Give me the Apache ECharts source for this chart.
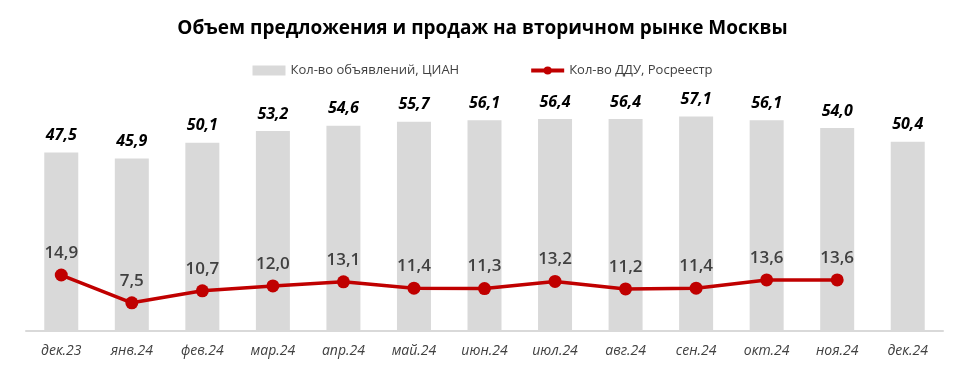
<!DOCTYPE html>
<html><head><meta charset="utf-8">
<script src="https://cdn.jsdelivr.net/npm/echarts@6/dist/echarts.min.js"></script>
<style>html,body{margin:0;padding:0;background:#fff}#c{width:965px;height:368px}</style>
</head><body><div id="c"></div>
<script>
const categories = ['дек.23','янв.24','фев.24','мар.24','апр.24','май.24','июн.24','июл.24','авг.24','сен.24','окт.24','ноя.24','дек.24'];
const listings = [47.5,45.9,50.1,53.2,54.6,55.7,56.1,56.4,56.4,57.1,56.1,54.0,50.4];
const deals = [14.9,7.5,10.7,12.0,13.1,11.4,11.3,13.2,11.2,11.4,13.6,13.6,null];
const seriesNames = ['Кол-во объявлений, ЦИАН','Кол-во ДДУ, Росреестр'];
const fmt = v => v.value == null ? '' : Number(v.value).toFixed(1).replace('.', ',');
const chart = echarts.init(document.getElementById('c'));
chart.setOption({
  animation: false,
  textStyle: {fontFamily: 'Open Sans'},
  title: {text: 'Объем предложения и продаж на вторичном рынке Москвы', left: 'center', top: 14,
    textStyle: {fontSize: 19, fontWeight: 'bold', color: '#000', fontFamily: 'Open Sans'}},
  legend: {top: 59, left: 'center', itemGap: 70, itemWidth: 33, itemHeight: 10,
    textStyle: {fontSize: 13, color: '#404040', fontFamily: 'Open Sans'},
    data: [{name: seriesNames[0], icon: 'rect'},
           {name: seriesNames[1], lineStyle: {width: 4, color: '#c00000'}}]},
  grid: {left: 26, right: 22, top: 68, bottom: 37},
  xAxis: {type: 'category', data: categories,
    axisLine: {lineStyle: {color: '#d9d9d9', width: 2}}, axisTick: {show: false},
    axisLabel: {fontStyle: 'italic', fontSize: 14, color: '#404040', margin: 13, fontFamily: 'Open Sans'}},
  yAxis: {type: 'value', min: 0, max: 70, show: false, splitLine: {show: false}},
  series: [
    {name: seriesNames[0], type: 'bar', data: listings, barWidth: 34,
      itemStyle: {color: '#d9d9d9'},
      label: {show: true, position: 'top', distance: 9, formatter: fmt, fontSize: 16, fontWeight: 'bold', fontStyle: 'italic', color: '#000', fontFamily: 'Open Sans'}},
    {name: seriesNames[1], type: 'line', data: deals, symbol: 'circle', symbolSize: 13,
      lineStyle: {color: '#c00000', width: 3.5}, itemStyle: {color: '#c00000'},
      label: {show: true, position: 'top', distance: 7, formatter: fmt, fontSize: 17, fontWeight: 600, color: '#404040', fontFamily: 'Open Sans'}}
  ]
});
</script></body></html>
